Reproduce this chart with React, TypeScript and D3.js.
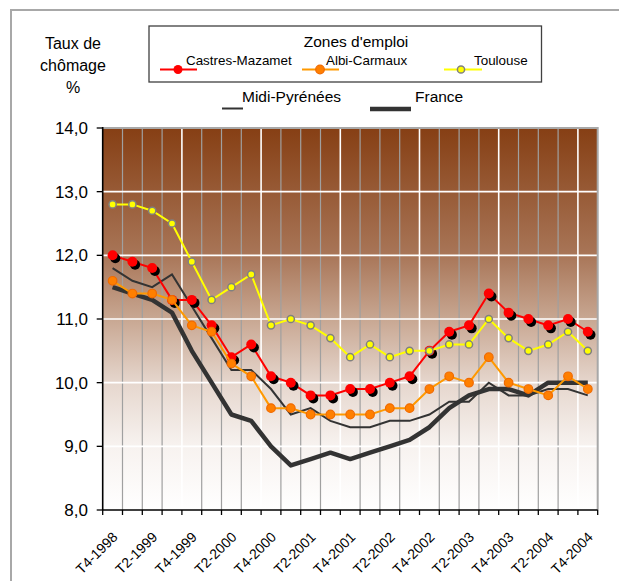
import React from 'react';
import * as d3 from 'd3';

const quarters = [
  'T4-1998', 'T1-1999', 'T2-1999', 'T3-1999', 'T4-1999',
  'T1-2000', 'T2-2000', 'T3-2000', 'T4-2000',
  'T1-2001', 'T2-2001', 'T3-2001', 'T4-2001',
  'T1-2002', 'T2-2002', 'T3-2002', 'T4-2002',
  'T1-2003', 'T2-2003', 'T3-2003', 'T4-2003',
  'T1-2004', 'T2-2004', 'T3-2004', 'T4-2004',
];
const shownLabels = [
  'T4-1998', 'T2-1999', 'T4-1999', 'T2-2000', 'T4-2000', 'T2-2001', 'T4-2001',
  'T2-2002', 'T4-2002', 'T2-2003', 'T4-2003', 'T2-2004', 'T4-2004',
];
const castresMazamet = [12.0, 11.9, 11.8, 11.3, 11.3, 10.9, 10.4, 10.6, 10.1, 10.0, 9.8, 9.8, 9.9, 9.9, 10.0, 10.1, 10.5, 10.8, 10.9, 11.4, 11.1, 11.0, 10.9, 11.0, 10.8];
const albiCarmaux = [11.6, 11.4, 11.4, 11.3, 10.9, 10.8, 10.3, 10.1, 9.6, 9.6, 9.5, 9.5, 9.5, 9.5, 9.6, 9.6, 9.9, 10.1, 10.0, 10.4, 10.0, 9.9, 9.8, 10.1, 9.9];
const toulouse = [12.8, 12.8, 12.7, 12.5, 11.9, 11.3, 11.5, 11.7, 10.9, 11.0, 10.9, 10.7, 10.4, 10.6, 10.4, 10.5, 10.5, 10.6, 10.6, 11.0, 10.7, 10.5, 10.6, 10.8, 10.5];
const midiPyrenees = [11.8, 11.6, 11.5, 11.7, 11.2, 10.7, 10.2, 10.2, 9.9, 9.5, 9.6, 9.4, 9.3, 9.3, 9.4, 9.4, 9.5, 9.7, 9.7, 10.0, 9.8, 9.8, 9.9, 9.9, 9.8];
const france = [11.5, 11.4, 11.3, 11.1, 10.5, 10.0, 9.5, 9.4, 9.0, 8.7, 8.8, 8.9, 8.8, 8.9, 9.0, 9.1, 9.3, 9.6, 9.8, 9.9, 9.9, 9.8, 10.0, 10.0, 10.0];
const yTicks = [8, 9, 10, 11, 12, 13, 14];

const FONT = 'Arial, "Liberation Sans", sans-serif';

export default function App() {
  const left = 102.7, right = 597.7, top = 128, bottom = 510;
  const x = d3.scaleBand<string>().domain(quarters).range([left, right]).padding(0);
  const y = d3.scaleLinear().domain([8, 14]).range([bottom, top]);
  const bw = x.bandwidth();
  const cx = (i: number) => (x(quarters[i]) as number) + bw / 2;
  const line = d3.line<number>().x((_, i) => cx(i)).y(d => y(d));

  const boundaries = d3.range(quarters.length + 1).map(k => left + k * bw);

  return (
    <svg width={619} height={581} style={{ position: 'absolute', left: 0, top: 0 }} fontFamily={FONT}>
      <defs>
        <linearGradient id="bg" x1="0" y1="0" x2="0" y2="1">
          <stop offset="0" stopColor="#863f14" />
          <stop offset="0.33" stopColor="#a87557" />
          <stop offset="0.5" stopColor="#c8a792" />
          <stop offset="0.67" stopColor="#e6d7ce" />
          <stop offset="0.83" stopColor="#f7f2ef" />
          <stop offset="1" stopColor="#ffffff" />
        </linearGradient>
      </defs>
      <rect x={0} y={0} width={619} height={581} fill="#fff" />
      <rect x={11} y={10} width={640} height={600} fill="none" stroke="#a8a8a8" strokeWidth={2} />

      {/* y-axis title */}
      <text x={73} y={49} fontSize={16} textAnchor="middle">Taux de</text>
      <text x={73} y={71} fontSize={16} textAnchor="middle">chômage</text>
      <text x={73} y={93} fontSize={16} textAnchor="middle">%</text>

      {/* legend box */}
      <rect x={149} y={26} width={392.5} height={56} fill="#fff" stroke="#404040" strokeWidth={1.3} />
      <text x={356} y={47} fontSize={15.5} textAnchor="middle">Zones d'emploi</text>
      <line x1={160} x2={197} y1={69.5} y2={69.5} stroke="#ff0000" strokeWidth={2} />
      <circle cx={178} cy={69.5} r={4.5} fill="#ff0000" />
      <text x={186} y={65} fontSize={13.4}>Castres-Mazamet</text>
      <line x1={302} x2={339} y1={69.5} y2={69.5} stroke="#ff9900" strokeWidth={2} />
      <circle cx={320} cy={69.5} r={4.3} fill="#ff7f00" stroke="#f06a00" strokeWidth={1.2} />
      <text x={326} y={65} fontSize={13.4}>Albi-Carmaux</text>
      <line x1={444} x2={482} y1={69.5} y2={69.5} stroke="#ffff00" strokeWidth={2} />
      <circle cx={461} cy={69.5} r={3.6} fill="#ffff00" stroke="#808080" strokeWidth={1.5} />
      <text x={474} y={65} fontSize={13.4}>Toulouse</text>

      <text x={242} y={102} fontSize={15.5}>Midi-Pyrénées</text>
      <line x1={222} x2={243} y1={108.5} y2={108.5} stroke="#333" strokeWidth={2} />
      <text x={415} y={102} fontSize={15.5}>France</text>
      <line x1={370} x2={411} y1={109} y2={109} stroke="#333" strokeWidth={4.5} />

      {/* plot background */}
      <rect x={left} y={top} width={right - left} height={bottom - top} fill="url(#bg)" />

      {/* vertical gridlines */}
      {boundaries.slice(1, -1).map((bx, k) => (
        <line key={'v' + k} x1={bx} x2={bx} y1={top} y2={bottom}
          stroke={(k + 1) % 4 === 0 ? '#ffffff' : '#a0a0a0'} strokeWidth={(k + 1) % 4 === 0 ? 1.6 : 1.2} />
      ))}
      {/* horizontal gridlines */}
      {yTicks.slice(1, -1).map(t => (
        <line key={'h' + t} x1={left} x2={right} y1={y(t)} y2={y(t)} stroke="#ffffff" strokeWidth={1.6} />
      ))}
      {/* plot border top/right */}
      <path d={`M${left},${top}H${right}V${bottom}`} fill="none" stroke="#a8a8a8" strokeWidth={2} />

      {/* series lines */}
      <path d={line(midiPyrenees) as string} fill="none" stroke="#333" strokeWidth={2} />
      <path d={line(france) as string} fill="none" stroke="#333" strokeWidth={4.5} strokeLinejoin="round" />

      <path d={line(castresMazamet) as string} fill="none" stroke="#ff0000" strokeWidth={2} />
      {castresMazamet.map((v, i) => (
        <circle key={'cs' + i} cx={cx(i) + 2.7} cy={y(v) + 3} r={5} fill="#000" />
      ))}
      {castresMazamet.map((v, i) => (
        <circle key={'c' + i} cx={cx(i)} cy={y(v)} r={5} fill="#ff0000" />
      ))}

      <path d={line(albiCarmaux) as string} fill="none" stroke="#ff9900" strokeWidth={2} />
      {albiCarmaux.map((v, i) => (
        <circle key={'a' + i} cx={cx(i)} cy={y(v)} r={4.3} fill="#ff7f00" stroke="#f06a00" strokeWidth={1.2} />
      ))}

      <path d={line(toulouse) as string} fill="none" stroke="#ffff00" strokeWidth={2} />
      {toulouse.map((v, i) => (
        <circle key={'t' + i} cx={cx(i)} cy={y(v)} r={3.6} fill="#ffff00" stroke="#808080" strokeWidth={1.5} />
      ))}

      {/* axes */}
      <line x1={left} x2={left} y1={top - 1} y2={bottom} stroke="#000" strokeWidth={1.6} />
      <line x1={left} x2={right} y1={bottom} y2={bottom} stroke="#000" strokeWidth={1.6} />
      {yTicks.map(t => (
        <g key={'yt' + t}>
          <line x1={left - 6} x2={left} y1={y(t)} y2={y(t)} stroke="#000" strokeWidth={1.3} />
          <text x={88} y={y(t) + 6} fontSize={17} textAnchor="end">{d3.format('.1f')(t).replace('.', ',')}</text>
        </g>
      ))}
      {boundaries.map((bx, k) => (
        <line key={'xt' + k} x1={bx} x2={bx} y1={bottom} y2={bottom + 5} stroke="#000" strokeWidth={1.3} />
      ))}
      {quarters.map((q, i) => shownLabels.includes(q) ? (
        <text key={'xl' + i} transform={`translate(${cx(i) + 6},${bottom + 28}) rotate(-45)`}
          fontSize={14} textAnchor="end">{q}</text>
      ) : null)}
    </svg>
  );
}
